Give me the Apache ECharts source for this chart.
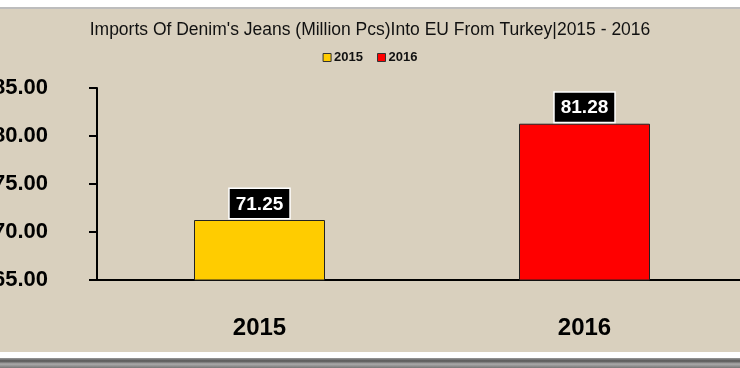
<!DOCTYPE html>
<html><head><meta charset="utf-8">
<script src="https://cdn.jsdelivr.net/npm/echarts@6/dist/echarts.min.js"></script>
<style>html,body{margin:0;padding:0;background:#fff}#c{width:740px;height:368px}</style>
</head><body><div id="c"></div>
<script>
const categories = ['2015', '2016'];
const seriesNames = ['2015', '2016'];
const values = [71.25, 81.28];
const colors = ['#ffcc00', '#ff0000'];
const yTicks = ['65.00', '70.00', '75.00', '80.00', '85.00'];
const titleText = "Imports Of Denim's Jeans (Million Pcs)Into EU From Turkey|2015 - 2016";

const chart = echarts.init(document.getElementById('c'));
const font = 'Liberation Sans';
const series = seriesNames.map((n, i) => ({
  name: n, type: 'bar', stack: 'a', barWidth: 131,
  data: categories.map((c, j) => j === i ? values[j] : '-'),
  itemStyle: { color: colors[i], borderColor: '#222', borderWidth: 1 },
  label: {
    show: true, position: 'top', distance: 2,
    formatter: p => p.value.toFixed(2),
    color: '#fff', fontWeight: 'bold', fontSize: 19, fontFamily: font,
    backgroundColor: '#000', borderColor: '#fff', borderWidth: 1.5,
    padding: [6, 6, 4, 6]
  }
}));
chart.setOption({
  animation: false,
  backgroundColor: '#fff',
  graphic: [
    { type: 'rect', shape: { x: 0, y: 7, width: 740, height: 2 }, style: { fill: '#bdbdbd' }, z: -10 },
    { type: 'rect', shape: { x: 0, y: 9, width: 740, height: 343 }, style: { fill: '#d9d0be' }, z: -10 },
    { type: 'rect', shape: { x: 0, y: 358, width: 740, height: 10 }, style: { fill: new echarts.graphic.LinearGradient(0,0,0,1,[{offset:0,color:'#9a9a9a'},{offset:0.3,color:'#555'},{offset:0.6,color:'#aaa'},{offset:1,color:'#777'}]) }, z: -10 }
  ],
  title: {
    text: titleText, left: 'center', top: 16,
    textStyle: { fontFamily: font, fontSize: 17.5, fontWeight: 'normal', color: '#111' }
  },
  legend: {
    top: 46, left: 'center', itemWidth: 8, itemHeight: 8, itemGap: 14,
    icon: 'rect',
    textStyle: { fontFamily: font, fontSize: 13, fontWeight: 'bold', color: '#111', padding: [0,0,0,-2] },
    itemStyle: { borderColor: '#333', borderWidth: 1 },
    data: seriesNames
  },
  grid: { left: 97, top: 88, width: 650, height: 192, containLabel: false, outerBoundsMode: 'none' },
  xAxis: {
    type: 'category', data: categories,
    axisLine: { lineStyle: { color: '#000', width: 2 } },
    axisTick: { show: false },
    axisLabel: { margin: 36, fontSize: 24, fontWeight: 'bold', color: '#000', fontFamily: font }
  },
  yAxis: {
    type: 'value', min: 65, max: 85, interval: 5,
    axisLine: { show: true, lineStyle: { color: '#000', width: 2 } },
    axisTick: { show: true, length: 8, lineStyle: { color: '#000', width: 2 } },
    splitLine: { show: false },
    axisLabel: { margin: 49, fontSize: 22, fontWeight: 'bold', color: '#000', fontFamily: font,
      formatter: v => yTicks[Math.round((v - 65) / 5)] }
  },
  series: series
});
</script></body></html>
